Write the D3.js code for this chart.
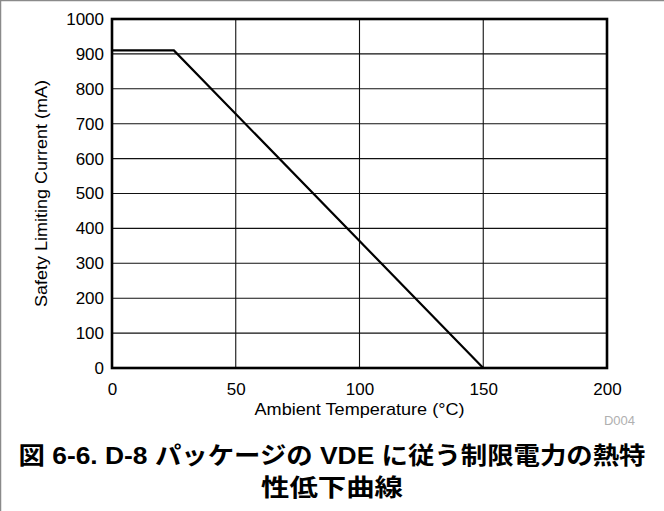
<!DOCTYPE html>
<html>
<head>
<meta charset="utf-8">
<script src="https://cdn.jsdelivr.net/npm/d3@7"></script>
<style>
html,body{margin:0;padding:0;background:#fff;}
svg{display:block;}
</style>
</head>
<body>
<svg id="chart" width="664" height="511"></svg>
<script>
// Data
const temperature = [0, 25, 150];          // °C
const current = [910, 910, 0];              // mA
const xTicks = [0, 50, 100, 150, 200];
const yTicks = [0, 100, 200, 300, 400, 500, 600, 700, 800, 900, 1000];
const xTitle = "Ambient Temperature (°C)";
const yTitle = "Safety Limiting Current (mA)";
const noteLabel = "D004";
const captionLines = ["図 6-6. D-8 パッケージの VDE に従う制限電力の熱特", "性低下曲線"];

const svg = d3.select("#chart");
const W = 664, H = 511;
const m = {left: 112, right: 607, top: 19, bottom: 368};

const x = d3.scaleLinear().domain([0, 200]).range([m.left, m.right]);
const y = d3.scaleLinear().domain([0, 1000]).range([m.bottom, m.top]);

const font = "'Liberation Sans', Arial, Helvetica, sans-serif";

// outer page border (top and left)
svg.append("line").attr("x1", 0).attr("x2", W).attr("y1", 0.5).attr("y2", 0.5)
  .attr("stroke", "#8a8a8a").attr("stroke-width", 1.5);
svg.append("line").attr("x1", 0.5).attr("x2", 0.5).attr("y1", 0).attr("y2", H)
  .attr("stroke", "#8a8a8a").attr("stroke-width", 1.5);

// grid
const grid = svg.append("g");
grid.selectAll(".gx").data(xTicks.slice(1, -1)).enter().append("line")
  .attr("x1", d => x(d)).attr("x2", d => x(d))
  .attr("y1", m.top).attr("y2", m.bottom)
  .attr("stroke", "#111").attr("stroke-width", 1.1);
grid.selectAll(".gy").data(yTicks.slice(1, -1)).enter().append("line")
  .attr("x1", m.left).attr("x2", m.right)
  .attr("y1", d => y(d)).attr("y2", d => y(d))
  .attr("stroke", "#111").attr("stroke-width", 1.1);

// axes labels via d3 axes (no tick lines / domain)
const xAxis = svg.append("g").attr("transform", `translate(0,${m.bottom})`)
  .call(d3.axisBottom(x).tickValues(xTicks).tickSize(0).tickPadding(15).tickFormat(d3.format("d")));
xAxis.select(".domain").remove();
xAxis.selectAll("text").attr("font-family", font).attr("font-size", 17).attr("fill", "#000");

const yAxis = svg.append("g").attr("transform", `translate(${m.left},0)`)
  .call(d3.axisLeft(y).tickValues(yTicks).tickSize(0).tickPadding(8).tickFormat(d3.format("d")));
yAxis.select(".domain").remove();
yAxis.selectAll("text").attr("font-family", font).attr("font-size", 17).attr("fill", "#000");

// data line
const line = d3.line().x((d, i) => x(temperature[i])).y((d, i) => y(current[i]));
svg.append("path").datum(current).attr("d", line)
  .attr("fill", "none").attr("stroke", "#000").attr("stroke-width", 2.2)
  .attr("stroke-linejoin", "miter");

// frame
svg.append("rect").attr("x", m.left).attr("y", m.top)
  .attr("width", m.right - m.left).attr("height", m.bottom - m.top)
  .attr("fill", "none").attr("stroke", "#000").attr("stroke-width", 2.6);

// axis titles
svg.append("text").attr("x", (m.left + m.right) / 2).attr("y", 415)
  .attr("text-anchor", "middle").attr("font-family", font).attr("font-size", 17)
  .attr("textLength", 210).attr("lengthAdjust", "spacingAndGlyphs")
  .text(xTitle);
svg.append("text")
  .attr("transform", `translate(47,${(m.top + m.bottom) / 2}) rotate(-90)`)
  .attr("text-anchor", "middle").attr("font-family", font).attr("font-size", 17)
  .attr("textLength", 227).attr("lengthAdjust", "spacingAndGlyphs")
  .text(yTitle);

// note label
svg.append("text").attr("x", 635).attr("y", 425).attr("text-anchor", "end")
  .attr("font-family", font).attr("font-size", 13).attr("fill", "#b0b0b0")
  .text(noteLabel);

// caption
const capFont = "'Liberation Sans', 'Noto Sans CJK JP', sans-serif";
const capWidths = [627, 142];
svg.selectAll(".cap").data(captionLines).enter().append("text")
  .attr("x", 332).attr("y", (d, i) => 464 + i * 32)
  .attr("text-anchor", "middle").attr("font-family", capFont)
  .attr("font-size", 24).attr("font-weight", "bold").attr("fill", "#000")
  .attr("textLength", (d, i) => capWidths[i]).attr("lengthAdjust", "spacingAndGlyphs")
  .text(d => d);
</script>
</body>
</html>
